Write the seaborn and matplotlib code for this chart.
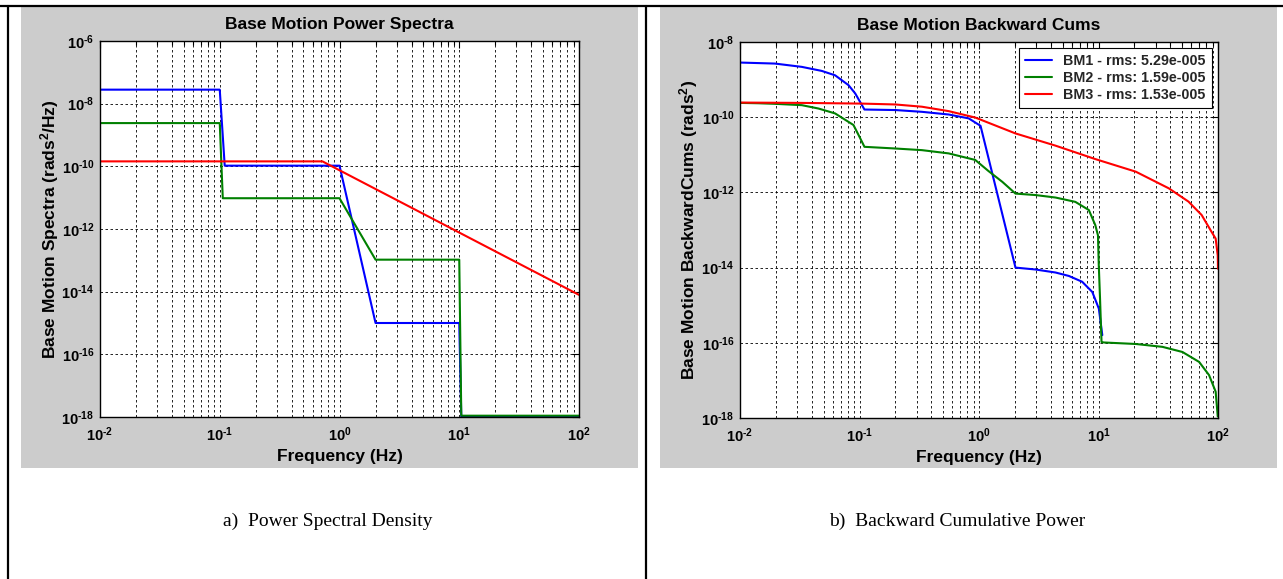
import numpy as np
import pandas as pd
import matplotlib
matplotlib.use("Agg")
import matplotlib.pyplot as plt
import seaborn as sns
from matplotlib.patches import Rectangle
from matplotlib.lines import Line2D
from matplotlib.ticker import FixedLocator, LogLocator, NullLocator, NullFormatter

# ---------------- data ----------------
series_names = ["BM1 - rms: 5.29e-005", "BM2 - rms: 1.59e-005", "BM3 - rms: 1.53e-005"]
series_colors = ["#0000FF", "#008000", "#FF0000"]

# Power spectral density (left panel)
bm1_psd_freq = [0.01, 0.1, 0.11, 1.0, 2.0, 10.0, 10.4, 100.0]
bm1_psd_val = [2.8e-8, 2.8e-8, 1.05e-10, 1.05e-10, 1.0e-15, 1.0e-15, 1.0e-18, 1.0e-18]
bm2_psd_freq = [0.01, 0.1, 0.106, 1.0, 2.0, 10.0, 10.4, 100.0]
bm2_psd_val = [2.4e-9, 2.4e-9, 9.6e-12, 9.6e-12, 1.05e-13, 1.05e-13, 1.1e-18, 1.1e-18]
bm3_psd_freq = [0.01, 0.72, 100.0]
bm3_psd_val = [1.44e-10, 1.44e-10, 7.9e-15]

# Backward cumulative power (right panel)
bm1_cum_freq = [0.01, 0.0196, 0.0329, 0.0484, 0.0625, 0.081, 0.092, 0.103, 0.110,
                0.2, 0.333, 0.557, 0.82, 1.03, 2.02, 2.97, 4.37, 5.65, 7.3, 8.87,
                10.07, 10.76]
bm1_cum_val = [2.84e-9, 2.67e-9, 2.18e-9, 1.7e-9, 1.3e-9, 7.1e-10, 4.3e-10, 2.3e-10,
               1.6e-10, 1.55e-10, 1.39e-10, 1.18e-10, 9.3e-11, 5.9e-11, 1.0e-14,
               8.9e-15, 7.4e-15, 6.0e-15, 4.2e-15, 2.25e-15, 8.1e-16, 1.6e-16]
bm2_cum_freq = [0.01, 0.0142, 0.0196, 0.0329, 0.0454, 0.0625, 0.089, 0.1, 0.110,
                0.2, 0.333, 0.557, 0.93, 1.2, 1.57, 2.02, 2.97, 4.37, 6.4, 8.3,
                9.4, 9.9, 10.05, 10.3, 10.6, 11.1, 20.5, 34.3, 50.4, 69.5, 84.2,
                95.6, 99.5]
bm2_cum_val = [2.4e-10, 2.35e-10, 2.27e-10, 2.09e-10, 1.7e-10, 1.26e-10, 6.2e-11,
               3.0e-11, 1.63e-11, 1.47e-11, 1.33e-11, 1.09e-11, 7.3e-12, 3.7e-12,
               1.9e-12, 9.3e-13, 8.5e-13, 7.3e-13, 5.6e-13, 3.4e-13, 1.35e-13,
               7.2e-14, 1.2e-14, 1.5e-15, 1.05e-16, 1.02e-16, 9.3e-17, 7.8e-17,
               5.7e-17, 3.1e-17, 1.38e-17, 5.0e-18, 1.1e-18]
bm3_cum_freq = [0.01, 0.0329, 0.105, 0.2, 0.333, 0.557, 0.93, 2.02, 4.37, 9.4,
                20.5, 38.8, 56.6, 73.0, 88.0, 95.6, 99.5, 100.0]
bm3_cum_val = [2.45e-10, 2.4e-10, 2.3e-10, 2.18e-10, 1.9e-10, 1.45e-10, 9.8e-11,
               3.7e-11, 1.75e-11, 7.7e-12, 3.56e-12, 1.28e-12, 5.7e-13, 2.5e-13,
               9.1e-14, 5.9e-14, 2.1e-14, 9.3e-15]

x_ticks = [1e-2, 1e-1, 1e0, 1e1, 1e2]
x_tick_labels = [r"$10^{\text{-}2}$", r"$10^{\text{-}1}$", r"$10^{0}$", r"$10^{1}$", r"$10^{2}$"]
y1_ticks = [1e-18, 1e-16, 1e-14, 1e-12, 1e-10, 1e-8, 1e-6]
y1_tick_labels = [r"$10^{\text{-}18}$", r"$10^{\text{-}16}$", r"$10^{\text{-}14}$",
                  r"$10^{\text{-}12}$", r"$10^{\text{-}10}$", r"$10^{\text{-}8}$",
                  r"$10^{\text{-}6}$"]
y2_ticks = [1e-18, 1e-16, 1e-14, 1e-12, 1e-10, 1e-8]
y2_tick_labels = [r"$10^{\text{-}18}$", r"$10^{\text{-}16}$", r"$10^{\text{-}14}$",
                  r"$10^{\text{-}12}$", r"$10^{\text{-}10}$", r"$10^{\text{-}8}$"]

title_left = "Base Motion Power Spectra"
title_right = "Base Motion Backward Cums"
xlabel = "Frequency (Hz)"
ylabel_left = r"Base Motion Spectra (rads$^2$/Hz)"
ylabel_right = r"Base Motion BackwardCums (rads$^2$)"
caption_left = "a)  Power Spectral Density"
caption_right = "b)  Backward Cumulative Power"

# ---------------- style ----------------
sns.set_theme(style="white")
plt.rcParams["font.family"] = ["Liberation Sans", "DejaVu Sans"]
plt.rcParams["font.weight"] = "bold"
plt.rcParams["mathtext.fontset"] = "custom"
plt.rcParams["mathtext.rm"] = "Liberation Sans:bold"
plt.rcParams["mathtext.it"] = "Liberation Sans:italic:bold"
plt.rcParams["mathtext.bf"] = "Liberation Sans:bold"
plt.rcParams["mathtext.sf"] = "Liberation Sans:bold"
plt.rcParams["mathtext.default"] = "rm"

W, H = 1283, 579
GRAY = "#CCCCCC"
fig = plt.figure(figsize=(W / 100, H / 100), dpi=100)
fig.patch.set_facecolor("white")

# gray figure panels
for x0, x1 in [(21, 638), (660, 1277)]:
    fig.add_artist(Rectangle((x0 / W, 1 - 468 / H), (x1 - x0) / W, (468 - 7) / H,
                             transform=fig.transFigure, facecolor=GRAY,
                             edgecolor="none", zorder=0))
# table borders
bw = 1.6
fig.add_artist(Line2D([0, 1], [1 - 6 / H, 1 - 6 / H], transform=fig.transFigure,
                      color="black", lw=bw))
fig.add_artist(Line2D([8 / W, 8 / W], [0, 1 - 6 / H], transform=fig.transFigure,
                      color="black", lw=bw))
fig.add_artist(Line2D([646.5 / W, 646.5 / W], [0, 1 - 6 / H], transform=fig.transFigure,
                      color="black", lw=bw))

ax1 = fig.add_axes([100 / W, 1 - 417 / H, 479 / W, 376 / H])
ax2 = fig.add_axes([740 / W, 1 - 418 / H, 478 / W, 376 / H])


def make_df(freqs, vals):
    rows = []
    for name, f, v in zip(series_names, freqs, vals):
        for fi, vi in zip(f, v):
            rows.append((name, fi, vi))
    return pd.DataFrame(rows, columns=["series", "freq", "value"])


df_psd = make_df([bm1_psd_freq, bm2_psd_freq, bm3_psd_freq],
                 [bm1_psd_val, bm2_psd_val, bm3_psd_val])
df_cum = make_df([bm1_cum_freq, bm2_cum_freq, bm3_cum_freq],
                 [bm1_cum_val, bm2_cum_val, bm3_cum_val])

pal = dict(zip(series_names, series_colors))
LBL = 12.5


def style_axes(ax, ylim, yticks, ylabels, title, ylabel, ylab_x):
    ax.set_xscale("log")
    ax.set_yscale("log")
    ax.set_xlim(1e-2, 1e2)
    ax.set_ylim(*ylim)
    ax.set_facecolor("white")
    ax.xaxis.set_major_locator(FixedLocator(x_ticks))
    ax.set_xticklabels(x_tick_labels)
    ax.xaxis.set_minor_locator(LogLocator(base=10, subs=np.arange(2, 10)))
    ax.xaxis.set_minor_formatter(NullFormatter())
    ax.yaxis.set_major_locator(FixedLocator(yticks))
    ax.set_yticklabels(ylabels)
    ax.yaxis.set_minor_locator(NullLocator())
    ax.tick_params(which="both", direction="in", top=True, right=True,
                   colors="black", labelsize=10.5)
    ax.tick_params(which="major", length=5, width=0.8)
    ax.tick_params(which="minor", length=3, width=0.8)
    ax.tick_params(axis="x", pad=6)
    ax.tick_params(axis="y", pad=4)
    ax.grid(which="major", axis="both", color="black",
            linestyle=(0, (3, 3)), linewidth=0.6)
    ax.grid(which="minor", axis="x", color="black",
            linestyle=(0, (3, 3)), linewidth=0.6)
    for s in ax.spines.values():
        s.set_color("black")
        s.set_linewidth(1.0)
        s.set_visible(True)
    ax.set_title(title, fontsize=LBL, fontweight="bold", pad=9, color="black")
    ax.set_xlabel(xlabel, fontsize=LBL, fontweight="bold", color="black")
    ax.set_ylabel(ylabel, fontsize=LBL, fontweight="bold", color="black")
    ax.xaxis.set_label_coords(0.5, -0.086)
    ax.yaxis.set_label_coords(ylab_x, 0.5)


for ax in (ax1, ax2):
    ax.set_xscale("log")
    ax.set_yscale("log")

sns.lineplot(data=df_psd, x="freq", y="value", hue="series", palette=pal,
             estimator=None, sort=False, linewidth=1.5, ax=ax1, legend=False)
sns.lineplot(data=df_cum, x="freq", y="value", hue="series", palette=pal,
             estimator=None, sort=False, linewidth=1.5, ax=ax2)

style_axes(ax1, (1e-18, 1e-6), y1_ticks, y1_tick_labels, title_left, ylabel_left, -0.0814)
style_axes(ax2, (1e-18, 1e-8), y2_ticks, y2_tick_labels, title_right, ylabel_right, -0.0837)

handles, labels = ax2.get_legend_handles_labels()
leg = ax2.legend(handles, labels, loc="upper right", frameon=True, fancybox=False,
                 edgecolor="black", framealpha=1, facecolor="white",
                 prop={"weight": "bold", "size": 10.3}, handlelength=1.9,
                 handletextpad=0.75, labelspacing=0.18, borderaxespad=0.45,
                 borderpad=0.42)
leg.get_frame().set_linewidth(0.8)

fig.text(328 / W, 1 - 521 / H, caption_left, family="Liberation Serif",
         fontweight="normal", fontsize=14, ha="center", va="center", color="black")
fig.text(957 / W, 1 - 521 / H, caption_right, family="Liberation Serif",
         fontweight="normal", fontsize=14, ha="center", va="center", color="black")

fig.savefig("out.png", dpi=100, facecolor="white")
